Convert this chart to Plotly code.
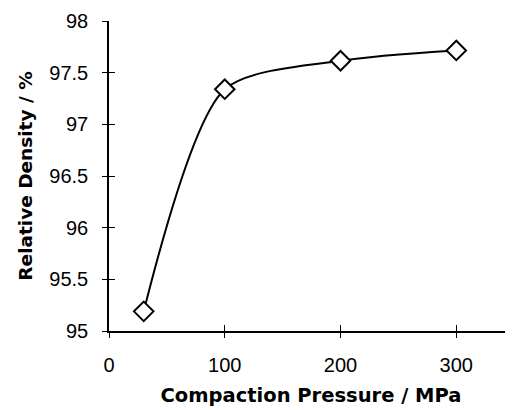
import plotly.graph_objects as go

pressure = [30, 100, 200, 300]
density = [95.19, 97.34, 97.615, 97.715]

x_ticks = [0, 100, 200, 300]
y_ticks = [95, 95.5, 96, 96.5, 97, 97.5, 98]
y_labels = ["95", "95.5", "96", "96.5", "97", "97.5", "98"]

XR = [0, 349]
YR = [95, 98]

# the page body adds an 8px offset; margins below compensate for it
OFF = 8

fig = go.Figure()
fig.add_trace(go.Scatter(
    x=pressure, y=density, mode="lines+markers",
    line=dict(color="black", width=2, shape="spline", smoothing=0.75),
    marker=dict(symbol="diamond", size=15, color="white",
                line=dict(color="black", width=2)),
    showlegend=False, hoverinfo="skip", cliponaxis=False,
))
# invisible trace for overlay axes (inner half of crossing ticks)
fig.add_trace(go.Scatter(x=[pressure[0]], y=[density[0]], xaxis="x2", yaxis="y2",
                         mode="markers", marker=dict(opacity=0), showlegend=False,
                         hoverinfo="skip"))

tick_font = dict(family="Liberation Sans, Arial, sans-serif", size=20, color="black")
title_font = dict(family="DejaVu Sans, sans-serif", size=18.5, color="black")

fig.update_layout(
    width=513, height=410,
    margin=dict(l=109 - OFF, r=OFF, t=21 - OFF, b=79 + OFF),
    paper_bgcolor="white", plot_bgcolor="white",
    xaxis=dict(range=XR, tickvals=x_ticks, ticks="outside", ticklen=5, tickwidth=1,
               tickcolor="black", showline=True, linecolor="black", linewidth=1.5,
               showgrid=False, zeroline=False, tickfont=tick_font, automargin=False,
               ticklabelstandoff=10,
               title=dict(text="<b>Compaction Pressure / MPa</b>",
                          font=dict(family="DejaVu Sans, sans-serif", size=19.5, color="black"),
                          standoff=14)),
    yaxis=dict(range=YR, tickvals=y_ticks, ticktext=y_labels, ticks="outside", ticklen=5,
               tickwidth=1, tickcolor="black", showline=True, linecolor="black",
               linewidth=1.5, showgrid=False, zeroline=False, tickfont=tick_font,
               automargin=False, ticklabelstandoff=10,
               title=dict(text="<b>Relative Density / %</b>", font=title_font, standoff=12)),
    xaxis2=dict(range=XR, tickvals=x_ticks, ticks="inside", ticklen=6, tickwidth=1,
                tickcolor="black", showline=False, showgrid=False, zeroline=False,
                showticklabels=False, overlaying="x", anchor="y2", automargin=False),
    yaxis2=dict(range=YR, tickvals=y_ticks, ticks="inside", ticklen=6, tickwidth=1,
                tickcolor="black", showline=False, showgrid=False, zeroline=False,
                showticklabels=False, overlaying="y", anchor="x2", automargin=False),
)

fig.write_html("out.html")
